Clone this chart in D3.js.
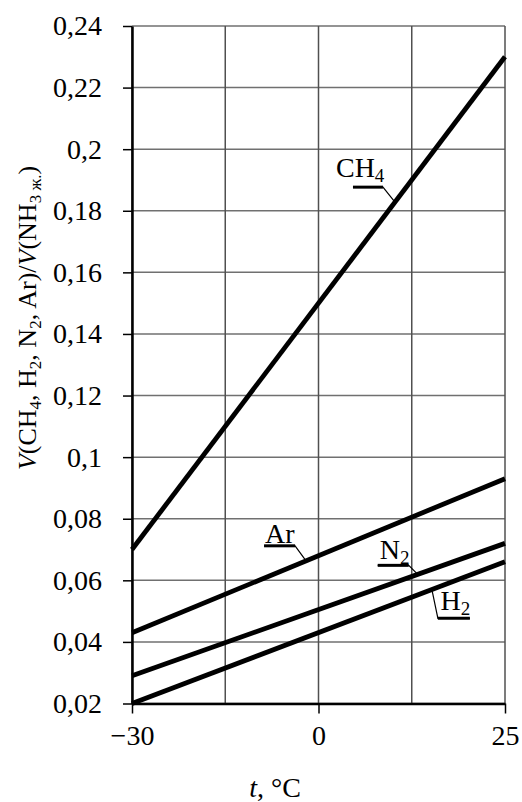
<!DOCTYPE html>
<html>
<head>
<meta charset="utf-8">
<script src="https://cdn.jsdelivr.net/npm/d3@7"></script>
<style>
  body { margin: 0; background: #fff; }
  svg, svg text { font-family: "Liberation Serif", "DejaVu Serif", "Times New Roman", serif !important; }
</style>
</head>
<body>
<div class="chart-wrapper"></div>
<script>
// data
const temps = [-30, 25]
const ch4 = [0.070, 0.230]
const ar = [0.043, 0.093]
const n2 = [0.029, 0.072]
const h2 = [0.020, 0.066]

const xTickLabels = [-30, 0, 25]
const xGridValues = [-30, -15, 0, 12.5, 25]
const yTickValues = d3.range(0.02, 0.2401, 0.02)

const width = 522
const height = 802
const margin = {top: 26, right: 17, bottom: 98.5, left: 132}

// category-like x axis: -30 .. 0 .. 25 evenly spread
let x = d3.scaleLinear()
  .domain([-30, 0, 25])
  .range([margin.left, (margin.left + width - margin.right) / 2, width - margin.right])

let y = d3.scaleLinear()
  .domain([0.02, 0.24])
  .range([height - margin.bottom, margin.top])

const fmt = d => d3.format('.2~f')(d).replace('.', ',')

let svg = d3.select('.chart-wrapper')
  .append('svg')
  .attr('width', width)
  .attr('height', height)

// grid
svg.append('g')
  .selectAll('line')
  .data(yTickValues)
  .enter()
  .append('line')
  .attr('x1', x(-30))
  .attr('x2', x(25))
  .attr('y1', d => y(d))
  .attr('y2', d => y(d))
  .style('stroke', '#707070')
  .style('stroke-width', 1.5)

svg.append('g')
  .selectAll('line')
  .data(xGridValues)
  .enter()
  .append('line')
  .attr('x1', d => x(d))
  .attr('x2', d => x(d))
  .attr('y1', y(0.02))
  .attr('y2', y(0.24))
  .style('stroke', '#505050')
  .style('stroke-width', 1.5)

// axes
let yaxis = svg.append('g')
  .attr('transform', 'translate(' + margin.left + ',0)')
  .call(d3.axisLeft(y)
    .tickValues(yTickValues)
    .tickFormat(fmt)
    .tickSizeInner(9)
    .tickSizeOuter(0)
    .tickPadding(21))
  .attr('font-family', null)
yaxis.select('.domain').style('stroke', '#000').style('stroke-width', 2.5)
yaxis.selectAll('.tick line').style('stroke', '#000').style('stroke-width', 1.5)
yaxis.selectAll('text')
  .style('font-size', '28px')
  .style('fill', '#000')

let xaxis = svg.append('g')
  .attr('transform', 'translate(0,' + y(0.02) + ')')
  .call(d3.axisBottom(x)
    .tickValues(xTickLabels)
    .tickFormat(d => d < 0 ? '\u2212' + Math.abs(d) : d)
    .tickSizeInner(10)
    .tickSizeOuter(0)
    .tickPadding(12))
  .attr('font-family', null)
xaxis.select('.domain').style('stroke', '#000').style('stroke-width', 2.5)
xaxis.selectAll('.tick line').style('stroke', '#000').style('stroke-width', 1.5)
xaxis.selectAll('text')
  .style('font-size', '28px')
  .style('fill', '#000')

// series
const series = [
  {name: 'CH', sub: '4', values: ch4},
  {name: 'Ar', sub: '', values: ar},
  {name: 'N', sub: '2', values: n2},
  {name: 'H', sub: '2', values: h2}
]

let line = d3.line()
  .x((d, i) => x(temps[i]))
  .y(d => y(d))

svg.append('g')
  .selectAll('path')
  .data(series)
  .enter()
  .append('path')
  .attr('d', d => line(d.values))
  .style('fill', 'none')
  .style('stroke', '#000')
  .style('stroke-width', 4.8)

// label layout: t on the line, then pixel offsets for text and underline
const labelLayout = [
  {t: 10.25, tx: -59, ty: -25, u0: -42, u1: -12, uy: -15},
  {t: -2.0, tx: -41, ty: -18, u0: -42, u1: -11, uy: -15},
  {t: 13.3, tx: -38, ty: -15.5, u0: -40, u1: -9, uy: -9},
  {t: 15.2, tx: 8.7, ty: 20, u0: 6, u1: 38, uy: 28.7}
]

const valueAt = (s, t) => s.values[0] + (s.values[1] - s.values[0]) * (x(t) - x(temps[0])) / (x(temps[1]) - x(temps[0]))

series.forEach((s, i) => {
  const L = labelLayout[i]
  const px = x(L.t)
  const py = y(valueAt(s, L.t))
  const lead = i === 3
    ? [[px + L.u1, py + L.uy], [px + L.u0, py + L.uy], [px, py]]
    : [[px + L.u0, py + L.uy], [px + L.u1, py + L.uy], [px, py]]
  svg.append('path')
    .attr('d', d3.line()(lead))
    .style('fill', 'none')
    .style('stroke', '#000')
    .style('stroke-width', 1.2)
  svg.append('path')
    .attr('d', d3.line()(lead.slice(0, 2)))
    .style('stroke', '#000')
    .style('stroke-width', 3)
  const txt = svg.append('text')
    .attr('x', px + L.tx)
    .attr('y', py + L.ty)
    .style('font-size', '28px')
  txt.append('tspan').text(s.name)
  if (s.sub) txt.append('tspan').attr('dy', 5).style('font-size', '19px').text(s.sub)
})

// axis titles
let xt = svg.append('text')
  .attr('x', 275)
  .attr('y', 797)
  .attr('text-anchor', 'middle')
  .style('font-size', '28px')
xt.append('tspan').style('font-style', 'italic').text('t')
xt.append('tspan').text(', \u00b0C')

const titleParts = [
  {t: 'V', it: true}, {t: '(CH'}, {t: '4', sub: true}, {t: ', H'}, {t: '2', sub: true},
  {t: ', N'}, {t: '2', sub: true}, {t: ', Ar)/'}, {t: 'V', it: true}, {t: '(NH'},
  {t: '3 ж.', sub: true}, {t: ')'}
]

let yt = svg.append('text')
  .attr('transform', 'translate(36,318) rotate(-90)')
  .attr('text-anchor', 'middle')
  .style('font-size', '26px')
let shifted = false
titleParts.forEach(p => {
  const ts = yt.append('tspan').text(p.t)
  if (p.it) ts.style('font-style', 'italic')
  if (p.sub) { ts.attr('dy', 5).style('font-size', '17px'); shifted = true }
  else if (shifted) { ts.attr('dy', -5); shifted = false }
})
</script>
</body>
</html>
